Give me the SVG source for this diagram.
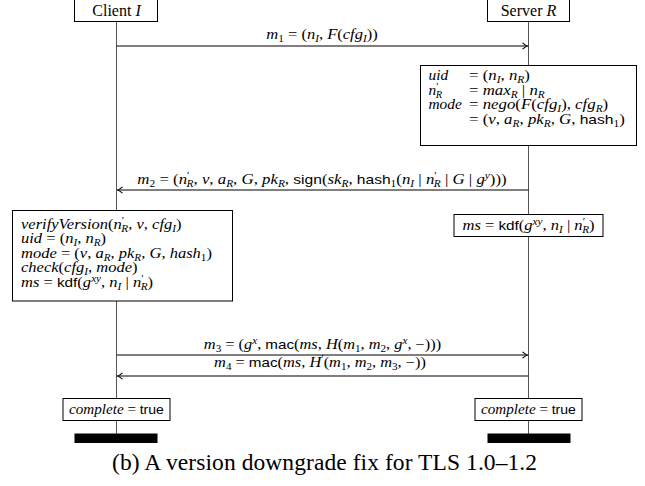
<svg xmlns="http://www.w3.org/2000/svg" width="645" height="486" viewBox="0 0 645 486">
  <style>
    .box { fill: #fff; stroke: #000; stroke-width: 1; }
    .life { stroke: #555; stroke-width: 1; fill: none; }
    .msg { stroke: #000; stroke-width: 1.1; fill: none; }
    .bar { fill: #000; }
    .t { font-family: "Liberation Serif", "DejaVu Serif", serif; font-size: 14px; fill: #000; }
    .lbl { font-family: "Liberation Serif", "DejaVu Serif", serif; font-size: 16px; fill: #000; }
    .cap { font-family: "Liberation Serif", "DejaVu Serif", serif; font-size: 23.5px; fill: #000; }
    .i { font-style: italic; }
    .sf { font-family: "Liberation Sans", "DejaVu Sans", sans-serif; font-style: normal; font-size: 13px; }
    .sb { font-size: 9.5px; baseline-shift: -3px; }
    .sp { font-size: 9.5px; baseline-shift: 5px; }
  </style>
  <defs>
    <marker id="tip" viewBox="-6 -4 7 8" refX="0" refY="0" markerWidth="7" markerHeight="8" markerUnits="userSpaceOnUse" orient="auto">
      <path d="M -5 -3.2 Q -2 -0.6 0 0 Q -2 0.6 -5 3.2" fill="none" stroke="#000" stroke-width="1.1"/>
    </marker>
  </defs>

  <!-- lifelines -->
  <g id="lifelines">
    <line class="life" x1="116.5" y1="21" x2="116.5" y2="434"/>
    <line class="life" x1="528.5" y1="21" x2="528.5" y2="434"/>
  </g>

  <!-- principals -->
  <g id="client">
    <rect class="box" x="74.5" y="-5" width="83" height="26.5"/>
    <text class="lbl" x="116.5" y="16" text-anchor="middle">Client <tspan class="i">I</tspan></text>
  </g>
  <g id="server">
    <rect class="box" x="487.5" y="-5" width="82" height="26.5"/>
    <text class="lbl" x="528.5" y="16" text-anchor="middle">Server <tspan class="i">R</tspan></text>
  </g>

  <!-- messages -->
  <g id="connectors">
    <line class="msg" x1="116.5" y1="46" x2="527.5" y2="46" marker-end="url(#tip)"/>
    <line class="msg" x1="528.5" y1="190" x2="117.5" y2="190" marker-end="url(#tip)"/>
    <line class="msg" x1="116.5" y1="355" x2="527.5" y2="355" marker-end="url(#tip)"/>
    <line class="msg" x1="528.5" y1="376" x2="117.5" y2="376" marker-end="url(#tip)"/>
  </g>

  <!-- math is set slightly wide, as in the typeset original -->
  <g id="m1-label" transform="translate(322,0) scale(1.18,1)">
    <text class="t" x="0" y="39" text-anchor="middle"><tspan class="i">m</tspan><tspan class="sb">1</tspan> = (<tspan class="i">n</tspan><tspan class="sb i">I</tspan>, <tspan class="i">F</tspan>(<tspan class="i">cfg</tspan><tspan class="sb i">I</tspan>))</text>
  </g>

  <!-- server computes uid and mode -->
  <g id="server-nego">
    <rect class="box" x="420.5" y="65.5" width="216" height="80"/>
    <g transform="translate(428.5,0) scale(1.1,1)">
      <text class="t i" x="0" y="80.5">uid</text>
      <text class="t i" x="0" y="95">n<tspan class="sp" font-style="normal">′</tspan><tspan class="sb" dx="-2.5">R</tspan></text>
      <text class="t i" x="0" y="109.5">mode</text>
    </g>
    <g transform="translate(469,0) scale(1.2,1)">
      <text class="t" x="0" y="80.5">= (<tspan class="i">n</tspan><tspan class="sb i">I</tspan>, <tspan class="i">n</tspan><tspan class="sb i">R</tspan>)</text>
      <text class="t" x="0" y="95">= <tspan class="i">max</tspan><tspan class="sb i">R</tspan> | <tspan class="i">n</tspan><tspan class="sb i">R</tspan></text>
      <text class="t" x="0" y="109.5">= <tspan class="i">nego</tspan>(<tspan class="i">F</tspan>(<tspan class="i">cfg</tspan><tspan class="sb i">I</tspan>), <tspan class="i">cfg</tspan><tspan class="sb i">R</tspan>)</text>
      <text class="t" x="0" y="124">= (<tspan class="i">v</tspan>, <tspan class="i">a</tspan><tspan class="sb i">R</tspan>, <tspan class="i">pk</tspan><tspan class="sb i">R</tspan>, <tspan class="i">G</tspan>, <tspan class="sf">hash</tspan><tspan class="sb">1</tspan>)</text>
    </g>
  </g>

  <g id="m2-label" transform="translate(322,0) scale(1.2,1)">
    <text class="t" x="0" y="184" text-anchor="middle"><tspan class="i">m</tspan><tspan class="sb">2</tspan> = (<tspan class="i">n</tspan><tspan class="sp">′</tspan><tspan class="sb i" dx="-2.5">R</tspan>, <tspan class="i">v</tspan>, <tspan class="i">a</tspan><tspan class="sb i">R</tspan>, <tspan class="i">G</tspan>, <tspan class="i">pk</tspan><tspan class="sb i">R</tspan>, <tspan class="sf">sign</tspan>(<tspan class="i">sk</tspan><tspan class="sb i">R</tspan>, <tspan class="sf">hash</tspan><tspan class="sb">1</tspan>(<tspan class="i">n</tspan><tspan class="sb i">I</tspan> | <tspan class="i">n</tspan><tspan class="sp">′</tspan><tspan class="sb i" dx="-2.5">R</tspan> | <tspan class="i">G</tspan> | <tspan class="i">g</tspan><tspan class="sp i">y</tspan>)))</text>
  </g>

  <!-- client checks -->
  <g id="client-verify">
    <rect class="box" x="12.5" y="210.5" width="220" height="90.5"/>
    <g transform="translate(21,0) scale(1.18,1)">
      <text class="t" x="0" y="229"><tspan class="i">verifyVersion</tspan>(<tspan class="i">n</tspan><tspan class="sp">′</tspan><tspan class="sb i" dx="-2.5">R</tspan>, <tspan class="i">v</tspan>, <tspan class="i">cfg</tspan><tspan class="sb i">I</tspan>)</text>
      <text class="t" x="0" y="243.5"><tspan class="i">uid</tspan> = (<tspan class="i">n</tspan><tspan class="sb i">I</tspan>, <tspan class="i">n</tspan><tspan class="sb i">R</tspan>)</text>
      <text class="t" x="0" y="258"><tspan class="i">mode</tspan> = (<tspan class="i">v</tspan>, <tspan class="i">a</tspan><tspan class="sb i">R</tspan>, <tspan class="i">pk</tspan><tspan class="sb i">R</tspan>, <tspan class="i">G</tspan>, <tspan class="i">hash</tspan><tspan class="sb">1</tspan>)</text>
      <text class="t" x="0" y="272.5"><tspan class="i">check</tspan>(<tspan class="i">cfg</tspan><tspan class="sb i">I</tspan>, <tspan class="i">mode</tspan>)</text>
      <text class="t" x="0" y="287"><tspan class="i">ms</tspan> = <tspan class="sf">kdf</tspan>(<tspan class="i">g</tspan><tspan class="sp i">xy</tspan>, <tspan class="i">n</tspan><tspan class="sb i">I</tspan> | <tspan class="i">n</tspan><tspan class="sp">′</tspan><tspan class="sb i" dx="-2.5">R</tspan>)</text>
    </g>
  </g>

  <!-- server derives ms -->
  <g id="server-kdf">
    <rect class="box" x="454" y="214.5" width="149" height="22"/>
    <g transform="translate(528.5,0) scale(1.18,1)">
      <text class="t" x="0" y="230" text-anchor="middle"><tspan class="i">ms</tspan> = <tspan class="sf">kdf</tspan>(<tspan class="i">g</tspan><tspan class="sp i">xy</tspan>, <tspan class="i">n</tspan><tspan class="sb i">I</tspan> | <tspan class="i">n</tspan><tspan class="sp">′</tspan><tspan class="sb i" dx="-2.5">R</tspan>)</text>
    </g>
  </g>

  <g id="m3-label" transform="translate(322.5,0) scale(1.17,1)">
    <text class="t" x="0" y="349" text-anchor="middle"><tspan class="i">m</tspan><tspan class="sb">3</tspan> = (<tspan class="i">g</tspan><tspan class="sp i">x</tspan>, <tspan class="sf">mac</tspan>(<tspan class="i">ms</tspan>, <tspan class="i">H</tspan>(<tspan class="i">m</tspan><tspan class="sb">1</tspan>, <tspan class="i">m</tspan><tspan class="sb">2</tspan>, <tspan class="i">g</tspan><tspan class="sp i">x</tspan>, −)))</text>
  </g>
  <g id="m4-label" transform="translate(320,0) scale(1.17,1)">
    <text class="t" x="0" y="367" text-anchor="middle"><tspan class="i">m</tspan><tspan class="sb">4</tspan> = <tspan class="sf">mac</tspan>(<tspan class="i">ms</tspan>, <tspan class="i">H</tspan><tspan class="sp">′</tspan>(<tspan class="i">m</tspan><tspan class="sb">1</tspan>, <tspan class="i">m</tspan><tspan class="sb">2</tspan>, <tspan class="i">m</tspan><tspan class="sb">3</tspan>, −))</text>
  </g>

  <!-- completion -->
  <g id="client-complete">
    <rect class="box" x="63" y="398.5" width="107" height="22"/>
    <g transform="translate(116.5,0) scale(1.08,1)">
      <text class="t" x="0" y="414" text-anchor="middle"><tspan class="i">complete</tspan> = <tspan class="sf">true</tspan></text>
    </g>
  </g>
  <g id="server-complete">
    <rect class="box" x="475" y="398.5" width="107" height="22"/>
    <g transform="translate(528.5,0) scale(1.08,1)">
      <text class="t" x="0" y="414" text-anchor="middle"><tspan class="i">complete</tspan> = <tspan class="sf">true</tspan></text>
    </g>
  </g>

  <g id="ends">
    <rect class="bar" x="74.5" y="433.5" width="83" height="9.5"/>
    <rect class="bar" x="487.5" y="433.5" width="83" height="9.5"/>
  </g>

  <text class="cap" x="112" y="470" textLength="425">(b) A version downgrade fix for TLS 1.0–1.2</text>
</svg>
